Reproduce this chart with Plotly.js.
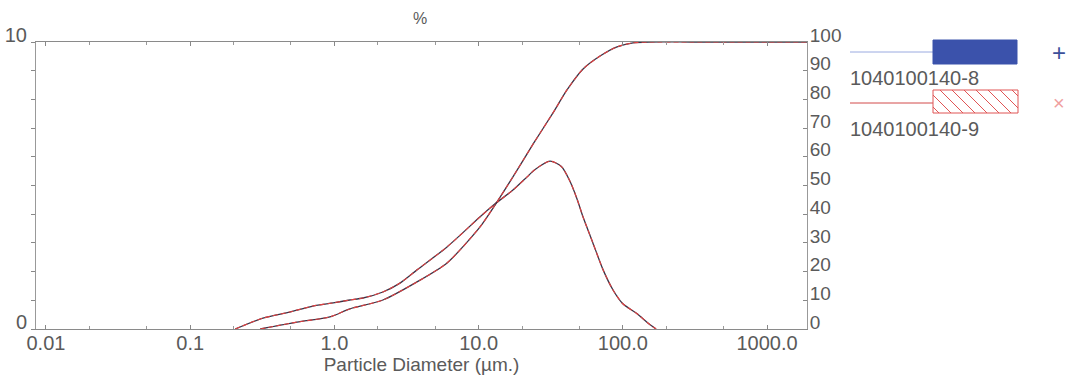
<!DOCTYPE html>
<html>
<head>
<meta charset="utf-8">
<script src="https://cdn.plot.ly/plotly-3.0.1.min.js"></script>
<style>html,body{margin:0;padding:0;background:#fff;}#chart{width:1067px;height:378px;}</style>
</head>
<body>
<div id="chart"></div>
<script>
// ---- Data ----
const sampleNames = ["1040100140-8", "1040100140-9"];

// Frequency (% per size class, left axis 0-10)
const s8FreqSize = [0.205, 0.32, 0.49, 0.71, 0.98, 1.28, 1.58, 2.17, 2.85, 3.74, 6.04, 10.2, 13.0, 17.3, 21.7, 24.5, 31.3, 37.5, 43.0, 48.0, 53.0, 62.0, 73.0, 85.5, 100, 125, 150, 170];
const s8Freq     = [0, 0.38, 0.59, 0.80, 0.91, 1.01, 1.08, 1.29, 1.60, 2.06, 2.86, 3.90, 4.36, 4.84, 5.30, 5.55, 5.85, 5.66, 5.15, 4.55, 3.90, 3.00, 2.06, 1.36, 0.88, 0.54, 0.20, 0];
const s9FreqSize = [0.205, 0.32, 0.49, 0.71, 0.98, 1.28, 1.58, 2.17, 2.85, 3.74, 6.04, 10.2, 13.0, 17.3, 21.7, 24.5, 31.3, 37.5, 43.0, 48.0, 53.0, 62.0, 73.0, 85.5, 100, 125, 150, 170];
const s9Freq     = [0, 0.38, 0.59, 0.80, 0.91, 1.01, 1.08, 1.29, 1.60, 2.06, 2.86, 3.90, 4.36, 4.84, 5.30, 5.55, 5.85, 5.66, 5.15, 4.55, 3.90, 3.00, 2.06, 1.36, 0.88, 0.54, 0.20, 0];

// Cumulative undersize (%, right axis 0-100)
const s8CumSize = [0.306, 0.55, 0.93, 1.28, 2.17, 3.74, 6.04, 10.2, 13.0, 17.3, 23.9, 32.8, 41.0, 53.0, 69.5, 91.2, 117.7, 154, 300, 1000, 2000];
const s8Cum     = [0, 2.4, 4.2, 7.0, 10.1, 16.4, 23.0, 35.5, 43.2, 53.0, 64.5, 75.3, 83.3, 90.6, 95.1, 98.3, 99.7, 100, 100, 100, 100];
const s9CumSize = [0.306, 0.55, 0.93, 1.28, 2.17, 3.74, 6.04, 10.2, 13.0, 17.3, 23.9, 32.8, 41.0, 53.0, 69.5, 91.2, 117.7, 154, 300, 1000, 2000];
const s9Cum     = [0, 2.4, 4.2, 7.0, 10.1, 16.4, 23.0, 35.5, 43.2, 53.0, 64.5, 75.3, 83.3, 90.6, 95.1, 98.3, 99.7, 100, 100, 100, 100];

// Tick labels
const xTickVals = [0.01, 0.1, 1, 10, 100, 1000];
const xTickText = ["0.01", "0.1", "1.0", "10.0", "100.0", "1000.0"];
const yLeftTickVals = [0,1,2,3,4,5,6,7,8,9,10];
const yLeftTickText = ["0","","","","","","","","","","10"];
const yRightTickVals = [0,10,20,30,40,50,60,70,80,90,100];
const yRightTickText = ["0","10","20","30","40","50","60","70","80","90","100"];

// ---- Layout geometry (pixels) ----
const W = 1067, H = 378;
const L = 36, R = 807, T = 42, B = 329;
const px = x => (x - L) / (R - L);
const py = y => (B - y) / (B - T);

const FONT = "Liberation Sans, Arial, sans-serif";
const TXT = "#5a5a5a";
const DARK_LINE = "#3a3548";
const RED_LINE = "#e04040";

const traces = [
  {x: s8FreqSize, y: s8Freq, yaxis: "y", type: "scatter", mode: "lines",
   line: {color: DARK_LINE, width: 1.3, shape: "spline", smoothing: 0.7}, name: sampleNames[0]},
  {x: s8CumSize, y: s8Cum, yaxis: "y2", type: "scatter", mode: "lines",
   line: {color: DARK_LINE, width: 1.3, shape: "spline", smoothing: 0.7}, name: sampleNames[0]},
  {x: s9FreqSize, y: s9Freq, yaxis: "y", type: "scatter", mode: "lines",
   line: {color: RED_LINE, width: 1.1, shape: "spline", smoothing: 0.7, dash: "5px,3px"}, name: sampleNames[1]},
  {x: s9CumSize, y: s9Cum, yaxis: "y2", type: "scatter", mode: "lines",
   line: {color: RED_LINE, width: 1.1, shape: "spline", smoothing: 0.7, dash: "5px,3px"}, name: sampleNames[1]}
];

// Legend decorations (drawn as shapes in paper coordinates)
const shapes = [
  {type: "line", xref: "paper", yref: "paper", x0: px(850), x1: px(933), y0: py(52), y1: py(52), line: {color: "#9aaae0", width: 1}},
  {type: "rect", xref: "paper", yref: "paper", x0: px(933), x1: px(1017), y0: py(64), y1: py(40), fillcolor: "#3b52ab", line: {color: "#3b52ab", width: 1}},
  {type: "line", xref: "paper", yref: "paper", x0: px(850), x1: px(933), y0: py(103), y1: py(103), line: {color: "#d24a4a", width: 1}},
  {type: "rect", xref: "paper", yref: "paper", x0: px(933), x1: px(1018), y0: py(113), y1: py(90), fillcolor: "rgba(0,0,0,0)", line: {color: "#e05555", width: 1}}
];
// hatch lines "\" inside the red legend box
(function(){
  const x0 = 933, x1 = 1018, y0 = 90, y1 = 113, h = y1 - y0;
  let path = "";
  for (let s = x0 - h + 6; s < x1; s += 12) {
    let ax = s, ay = y0, bx = s + h, by = y1;
    if (ax < x0) { ay = y0 + (x0 - ax); ax = x0; }
    if (bx > x1) { by = y1 - (bx - x1); bx = x1; }
    if (bx <= ax) continue;
    path += `M${px(ax)},${py(ay)} L${px(bx)},${py(by)} `;
  }
  shapes.push({type: "path", xref: "paper", yref: "paper", path: path, line: {color: "#e05555", width: 1}});
})();

const annotations = [
  {xref: "paper", yref: "paper", x: px(848), y: py(78), xanchor: "left", yanchor: "middle", showarrow: false,
   text: sampleNames[0], font: {family: FONT, size: 20, color: TXT}},
  {xref: "paper", yref: "paper", x: px(848), y: py(129), xanchor: "left", yanchor: "middle", showarrow: false,
   text: sampleNames[1], font: {family: FONT, size: 20, color: TXT}},
  {xref: "paper", yref: "paper", x: px(1059), y: py(52), xanchor: "center", yanchor: "middle", showarrow: false,
   text: "+", font: {family: FONT, size: 24, color: "#3b4f9a"}},
  {xref: "paper", yref: "paper", x: px(1059), y: py(103), xanchor: "center", yanchor: "middle", showarrow: false,
   text: "×", font: {family: FONT, size: 20, color: "#f0a0a0"}}
];

const layout = {
  width: W, height: H,
  margin: {l: L, r: W - R, t: T, b: H - B, pad: 0},
  paper_bgcolor: "#fff", plot_bgcolor: "#fff",
  showlegend: false,
  font: {family: FONT, color: TXT, size: 20},
  title: {text: "%", x: 420 / W, xanchor: "center", y: 1 - 18 / H, yanchor: "middle",
          font: {family: FONT, size: 16, color: TXT}},
  xaxis: {
    type: "log", range: [-2.069, 3.277],
    tickvals: xTickVals, ticktext: xTickText,
    ticks: "inside", ticklen: 4, tickcolor: "#888",
    showline: true, linecolor: "#8a8a8a", linewidth: 1, mirror: "ticks",
    showgrid: false, zeroline: false,
    minor: {ticks: "inside", ticklen: 3, tickcolor: "#999", showgrid: false},
    ticklabelstandoff: -4,
    tickfont: {family: FONT, size: 20, color: TXT},
    title: {text: "Particle Diameter (µm.)", standoff: 0, font: {family: FONT, size: 19, color: TXT}}
  },
  yaxis: {
    range: [0, 10],
    tickvals: yLeftTickVals, ticktext: yLeftTickText,
    ticks: "outside", ticklen: 4, tickcolor: "#888",
    showline: true, linecolor: "#999", linewidth: 1,
    showgrid: false, zeroline: false,
    ticklabelshift: -7, ticklabelstandoff: 0,
    tickfont: {family: FONT, size: 20, color: TXT}
  },
  yaxis2: {
    range: [0, 100], overlaying: "y", side: "right",
    tickvals: yRightTickVals, ticktext: yRightTickText,
    ticks: "inside", ticklen: 4, tickcolor: "#888",
    showline: true, linecolor: "#999", linewidth: 1,
    showgrid: false, zeroline: false,
    ticklabelshift: -7, ticklabelstandoff: -2,
    tickfont: {family: FONT, size: 19, color: TXT}
  },
  shapes: shapes,
  annotations: annotations
};

Plotly.newPlot("chart", traces, layout, {staticPlot: true, displayModeBar: false});
</script>
</body>
</html>
